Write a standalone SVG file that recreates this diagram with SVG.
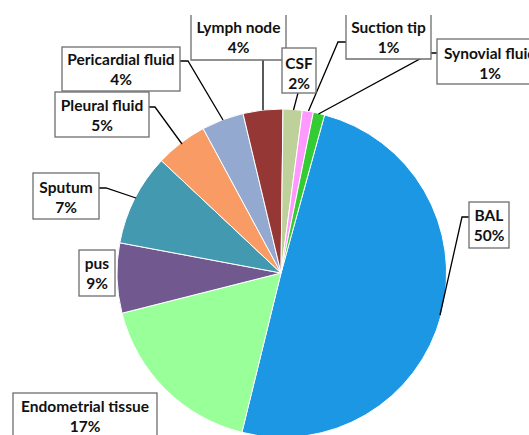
<svg xmlns="http://www.w3.org/2000/svg" width="529" height="435" viewBox="0 0 529 435">
<style>
.sl{stroke:#ffffff;stroke-width:1;stroke-linejoin:round}
.box{fill:#ffffff;stroke:#6e6e6e;stroke-width:1.3}
.open{fill:none;stroke:#6e6e6e;stroke-width:1.3}
.ld{fill:none;stroke:#000000;stroke-width:1.3}
text{font-family:"Lato","Liberation Sans",sans-serif;font-weight:bold;font-size:15.5px;fill:#111111;text-anchor:middle}
</style>
<rect width="529" height="435" fill="#ffffff"/>
<g id="pie">
<path id="slice-bal" class="sl" fill="#1C97E3" d="M281,273 L324.6,114.9 A164,164 0 0 1 241.9,432.3 Z"/>
<path id="slice-endometrial" class="sl" fill="#99FF99" d="M281,273 L241.9,432.3 A164,164 0 0 1 122.0,313.2 Z"/>
<path id="slice-pus" class="sl" fill="#71588F" d="M281,273 L122.0,313.2 A164,164 0 0 1 119.8,242.8 Z"/>
<path id="slice-sputum" class="sl" fill="#4299B0" d="M281,273 L119.8,242.8 A164,164 0 0 1 161.4,160.7 Z"/>
<path id="slice-pleural" class="sl" fill="#F99B64" d="M281,273 L161.4,160.7 A164,164 0 0 1 203.2,128.6 Z"/>
<path id="slice-pericardial" class="sl" fill="#94A9D0" d="M281,273 L203.2,128.6 A164,164 0 0 1 243.0,113.5 Z"/>
<path id="slice-lymph" class="sl" fill="#943735" d="M281,273 L243.0,113.5 A164,164 0 0 1 283.0,109.0 Z"/>
<path id="slice-csf" class="sl" fill="#BFD19B" d="M281,273 L283.0,109.0 A164,164 0 0 1 302.4,110.4 Z"/>
<path id="slice-suction" class="sl" fill="#FF99FF" d="M281,273 L302.4,110.4 A164,164 0 0 1 313.4,112.2 Z"/>
<path id="slice-synovial" class="sl" fill="#33CC33" d="M281,273 L313.4,112.2 A164,164 0 0 1 324.6,114.9 Z"/>
</g>
<g id="connectors">
<path class="ld" d="M180,61 H188 L223,120"/>
<path class="ld" d="M149,107 H155 L182,144"/>
<path class="ld" d="M99,188 H106 L136,198"/>
<path class="ld" d="M263,60 V110"/>
<path class="ld" d="M298,93 L293.5,110"/>
<path class="ld" d="M346,42 H338 L308.5,111"/>
<path class="ld" d="M437,53 H431 L318.5,114"/>
<path class="ld" d="M469,217 H462 L440,315"/>
</g>
<g id="label-pericardial">
<rect class="box" x="62" y="47" width="118" height="44"/>
<text x="121" y="65">Pericardial fluid</text>
<text x="121" y="85">4%</text>
</g>
<g id="label-pleural">
<rect class="box" x="55" y="92" width="94" height="45"/>
<text x="102" y="110.5">Pleural fluid</text>
<text x="102" y="130.5">5%</text>
</g>
<g id="label-sputum">
<rect class="box" x="33" y="173" width="66" height="46"/>
<text x="66" y="192.5">Sputum</text>
<text x="66" y="212.5">7%</text>
</g>
<g id="label-pus">
<rect class="box" x="79" y="250" width="36" height="46"/>
<text x="97" y="268.5">pus</text>
<text x="97" y="288.5">9%</text>
</g>
<g id="label-endometrial">
<rect class="box" x="13" y="393" width="144" height="60"/>
<text x="85" y="411.5">Endometrial tissue</text>
<text x="85" y="431.5">17%</text>
</g>
<g id="label-bal">
<rect class="box" x="469" y="202" width="40" height="46"/>
<text x="489" y="220.5">BAL</text>
<text x="489" y="240.5">50%</text>
</g>
<g id="label-lymph">
<rect x="191" y="15" width="95" height="45" fill="#ffffff"/>
<path class="open" d="M191,15 V60 H286 V15"/>
<text x="238.5" y="33">Lymph node</text>
<text x="238.5" y="53">4%</text>
</g>
<g id="label-csf">
<rect class="box" x="282" y="48" width="34" height="45"/>
<text x="299" y="68.5">CSF</text>
<text x="299" y="88.5">2%</text>
</g>
<g id="label-suction">
<rect x="346" y="15" width="85" height="44" fill="#ffffff"/>
<path class="open" d="M346,15 V59 H431 V15"/>
<text x="388.5" y="33">Suction tip</text>
<text x="388.5" y="53">1%</text>
</g>
<g id="label-synovial">
<rect class="box" x="437" y="39" width="110" height="45"/>
<text x="490" y="58.5">Synovial fluid</text>
<text x="490" y="78.5">1%</text>
</g>
</svg>
